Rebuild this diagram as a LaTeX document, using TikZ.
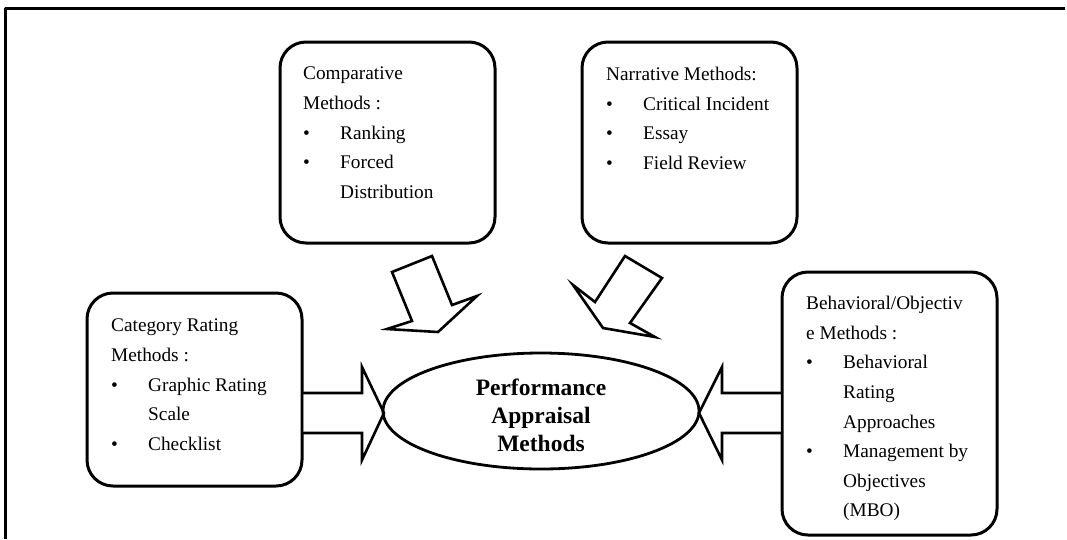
\documentclass[tikz,border=0pt]{standalone}
\usepackage{fontspec}
\setmainfont{Liberation Serif}
\usetikzlibrary{shapes.geometric}

\tikzstyle{obj1}=[black, line width = 3pt, line join=round, line cap=round]
\tikzstyle{methodbox}=[obj1, draw, rounded corners=26pt, minimum width=215pt, inner sep=0pt]
\tikzstyle{methodtext}=[anchor=north west, inner sep=0pt, align=left, font=\fontsize{19.3}{29.6}\selectfont]
\tikzstyle{blockarrow}=[obj1, line width=2.6pt, line join=miter, fill=white]

\newcommand{\itm}{\makebox[37pt][l]{\textbullet}}
\newcommand{\cont}{\hspace*{37pt}}

\begin{document}
\begin{tikzpicture}[x=1pt, y=-1pt]
	
	\useasboundingbox (0,0) rectangle (1067,539);
	
	% frame, open at the right and at the bottom
	\draw[obj1, line cap=butt] (5,539) -- (5,8) -- (1065,8);
	
	% the four groups of methods
	\node[methodbox, minimum height=201pt] (comp) at (387.5,142.5) {};
	\node[methodbox, minimum height=201pt] (narr) at (689.5,142.5) {};
	\node[methodbox, minimum height=193pt] (cat) at (194.5,389.5) {};
	\node[methodbox, minimum height=263pt] (beh) at (889.5,403.5) {};
	
	\node[methodtext] (comptext) at (303,67) {Comparative\\Methods :\\\itm Ranking\\\itm Forced\\\cont Distribution};
	\node[methodtext] (narrtext) at (606,67) {Narrative Methods:\\\itm Critical Incident\\\itm Essay\\\itm Field Review};
	\node[methodtext] (cattext) at (111,319) {Category Rating\\Methods :\\\itm Graphic Rating\\\cont Scale\\\itm Checklist};
	\node[methodtext] (behtext) at (806,296) {Behavioral/Objectiv\\e Methods :\\\itm Behavioral\\\cont Rating\\\cont Approaches\\\itm Management by\\\cont Objectives\\\cont (MBO)};
	
	% block arrows towards the centre
	\draw[blockarrow] (392,272) -- (432,256) -- (452,305) -- (477,296) -- (438,332) -- (387,329) -- (412,321) -- cycle;
	\draw[blockarrow] (625,256) -- (662,278) -- (630,323) -- (655,337) -- (603,328) -- (573,285) -- (595,302) -- cycle;
	\draw[blockarrow] (cat.east |- 0,393) -- (362,393) -- (362,367) -- (384,413) -- (362,460) -- (362,433) -- (cat.east |- 0,433);
	\draw[blockarrow] (beh.west |- 0,393) -- (722,393) -- (722,367) -- (699,413) -- (722,460) -- (722,433) -- (beh.west |- 0,433);
	
	% centre
	\node[obj1, line width=2.8pt, draw, ellipse, minimum width=316pt, minimum height=116pt, inner sep=0pt] (perf) at (541,411) {};
	\node[align=center, inner sep=0pt, font=\bfseries\fontsize{23.5}{28}\selectfont] (perftext) at (541,415) {Performance\\Appraisal\\Methods};
	
\end{tikzpicture}
\end{document}
